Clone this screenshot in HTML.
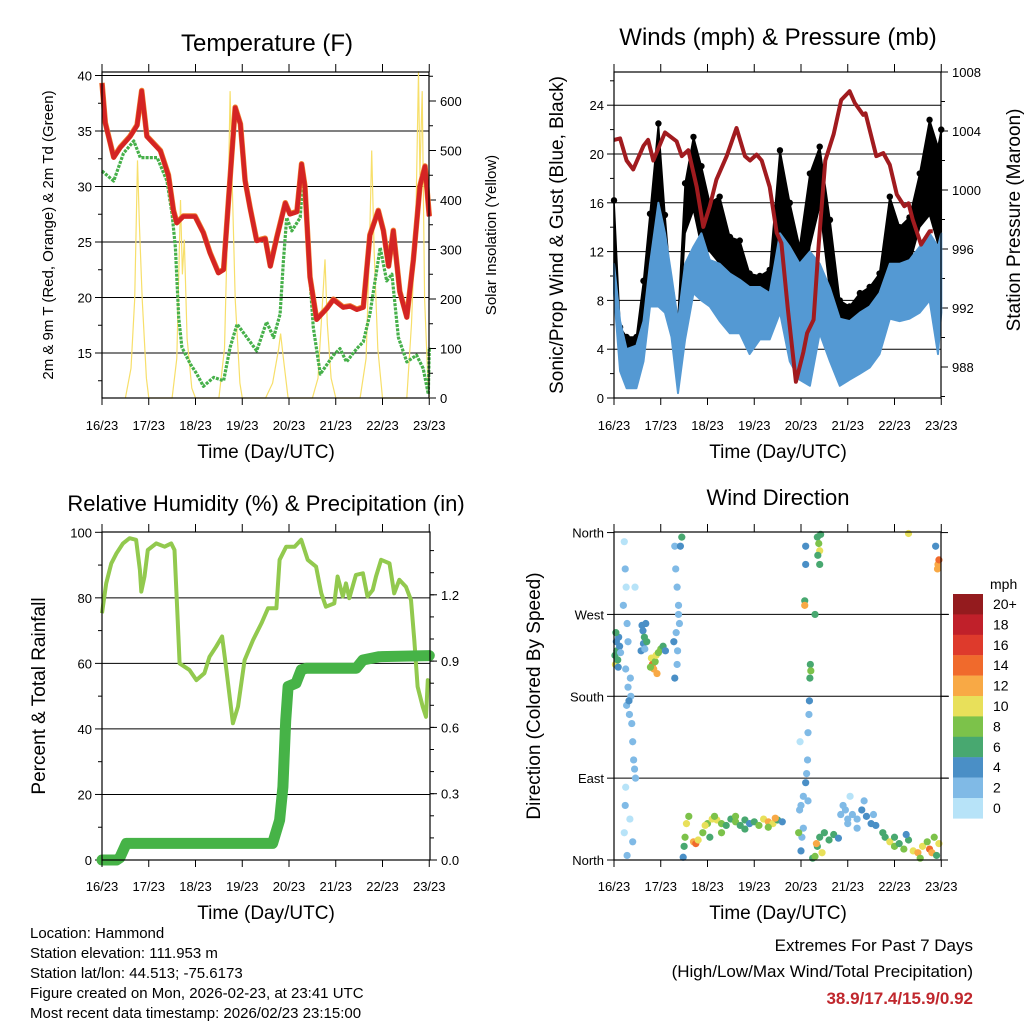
<!DOCTYPE html>
<html><head><meta charset="utf-8"><title>Hammond station 7-day meteogram</title>
<style>
html,body{margin:0;padding:0;background:#fff;}
svg{display:block;font-family:"Liberation Sans",Arial,sans-serif;}
</style></head>
<body>
<svg id="chart" width="1024" height="1024" viewBox="0 0 1024 1024" xmlns="http://www.w3.org/2000/svg">
<rect x="0" y="0" width="1024" height="1024" fill="#fff"/>
<g id="layer"></g>
<text x="267" y="51" font-size="24" text-anchor="middle">Temperature (F)</text>
<text x="778" y="45" font-size="24" text-anchor="middle">Winds (mph) &amp; Pressure (mb)</text>
<text x="266" y="511" font-size="22" text-anchor="middle">Relative Humidity (%) &amp; Precipitation (in)</text>
<text x="778" y="505" font-size="22" text-anchor="middle">Wind Direction</text>
<text transform="translate(53,235) rotate(-90)" font-size="15" text-anchor="middle">2m &amp; 9m T (Red, Orange) &amp; 2m Td (Green)</text>
<text transform="translate(496,235) rotate(-90)" font-size="15" text-anchor="middle">Solar Insolation (Yellow)</text>
<text transform="translate(563,235) rotate(-90)" font-size="19" text-anchor="middle">Sonic/Prop Wind &amp; Gust (Blue, Black)</text>
<text transform="translate(1020,220) rotate(-90)" font-size="19" text-anchor="middle">Station Pressure (Maroon)</text>
<text transform="translate(45,696) rotate(-90)" font-size="19" text-anchor="middle">Percent &amp; Total Rainfall</text>
<text transform="translate(540,696) rotate(-90)" font-size="19" text-anchor="middle">Direction (Colored By Speed)</text>
<text x="266" y="458" font-size="19" text-anchor="middle">Time (Day/UTC)</text>
<text x="778" y="458" font-size="19" text-anchor="middle">Time (Day/UTC)</text>
<text x="266" y="919" font-size="19" text-anchor="middle">Time (Day/UTC)</text>
<text x="778" y="919" font-size="19" text-anchor="middle">Time (Day/UTC)</text>
<g font-size="15">
<text x="30" y="938">Location: Hammond</text>
<text x="30" y="958">Station elevation: 111.953 m</text>
<text x="30" y="978">Station lat/lon: 44.513; -75.6173</text>
<text x="30" y="998">Figure created on Mon, 2026-02-23, at 23:41 UTC</text>
<text x="30" y="1018">Most recent data timestamp: 2026/02/23 23:15:00</text>
</g>
<g text-anchor="end">
<text x="973" y="951" font-size="17">Extremes For Past 7 Days</text>
<text x="973" y="977" font-size="17">(High/Low/Max Wind/Total Precipitation)</text>
<text x="973" y="1004" font-size="17" font-weight="bold" fill="#c0272d">38.9/17.4/15.9/0.92</text>
</g>
</svg>
<script>
// ---------- data ----------
const dayLabels = ["16/23","17/23","18/23","19/23","20/23","21/23","22/23","23/23"];
const tempTicks = [15,20,25,30,35,40];
const solarTicks = [0,100,200,300,400,500,600];
const windTicks = [0,4,8,12,16,20,24];
const pressTicks = [988,992,996,1000,1004,1008];
const rhTicks = [0,20,40,60,80,100];
const rainTicks = ["0.0","0.3","0.6","0.9","1.2"];
const dirTicks = ["North","East","South","West","North"];
const speedLabels = ["20+","18","16","14","12","10","8","6","4","2","0"];
const speedColors = ["#b7e3f8","#80bae6","#4a8fc6","#48a870","#7cc24a","#e8e05a","#f8a945","#f06a2c","#de3a2c","#c0202a","#941b1e"];

const tempT = [0,0.07,0.25,0.39,0.6,0.75,0.85,0.96,1.25,1.42,1.53,1.6,1.74,1.99,2.17,2.31,2.49,2.6,2.71,2.85,2.96,3.06,3.17,3.31,3.49,3.6,3.74,3.92,4.02,4.17,4.27,4.34,4.45,4.59,4.81,4.95,5.16,5.31,5.45,5.59,5.73,5.91,6.02,6.13,6.23,6.37,6.52,6.66,6.8,6.91,7];
const tempV = [39.3,35.7,32.6,33.5,34.5,35.5,38.6,34.5,33.2,31,27.8,26.7,27.3,27.3,25.8,24,22.2,22.5,29,37.1,35.6,30.5,28,25.1,25.3,22.8,25.4,28.5,27.5,27.7,32,30,21.8,18,19,19.8,19.1,19.2,18.9,19.1,25.6,27.8,26,22.8,26,20.5,18.2,23.4,30,31.8,27.3];
const dewT = [0,0.25,0.46,0.68,0.82,0.96,1.18,1.39,1.5,1.57,1.64,1.71,1.89,2.03,2.17,2.39,2.6,2.74,2.89,3.31,3.52,3.67,3.81,3.88,3.95,4.06,4.24,4.31,4.38,4.52,4.67,4.95,5.09,5.23,5.45,5.59,5.73,5.95,6.09,6.2,6.34,6.52,6.73,6.87,6.98,7];
const dewV = [31.4,30.5,33,34.1,32.6,32.6,32.6,30.5,27.5,24.5,18.2,15.5,14,13.1,12,12.8,12.5,15.5,17.6,15.2,17.8,16.4,18.5,23.3,27.2,26,27.2,31.4,25.7,17.3,13.1,14.8,15.4,14.2,15.4,16,18.5,24.5,21.5,22.1,16.4,14.2,14.8,13.6,11.3,15.5];
const solarT = [0.5,0.62,0.7,0.76,0.8,0.86,0.95,1.0,1.5,1.6,1.68,1.72,1.76,1.82,1.92,2.0,2.5,2.62,2.7,2.74,2.78,2.85,2.95,3.0,3.5,3.65,3.78,3.82,3.88,3.98,4.5,4.62,4.72,4.77,4.82,4.9,5.0,5.52,5.65,5.72,5.77,5.82,5.9,6.0,6.52,6.62,6.72,6.77,6.8,6.85,6.9,6.97,7.0];
const solarV = [0,60,200,480,350,200,40,0,0,80,400,250,320,120,20,0,0,100,400,620,450,200,30,0,0,30,100,130,80,0,0,40,200,280,150,40,0,0,80,300,500,300,100,0,0,150,400,660,450,620,200,40,0];

const windT = [0,0.13,0.27,0.48,0.63,0.77,0.95,1.09,1.23,1.37,1.52,1.7,1.87,2.05,2.26,2.48,2.69,2.9,3.12,3.33,3.55,3.76,3.97,4.19,4.4,4.62,4.83,5.04,5.26,5.47,5.68,5.9,6.11,6.32,6.54,6.75,6.93,7];
const windHi = [11,6.3,4,4.3,6.3,11,16,13.5,10,6.3,11,12.4,13.5,11.3,11,10.2,9.7,9.1,9.1,8.6,13.5,12.4,11,12,11,9,6.5,6.3,7,7.5,8.6,11,11,11.3,12.4,13.5,12.4,13.5];
const windLo = [8.6,2.2,0.8,0.8,3,7.5,7.5,7,5,0.4,4.8,8.6,8,7.5,6.3,5.3,5.3,3.6,4.8,4.8,7,3,1.5,1,5.3,3,1,1.5,2,2.5,3.6,6.5,6.3,6.5,7,8,3.6,7];
const gustHi = [16.2,5.8,5,5,9.6,15.1,22.5,15,8.6,6.5,17.6,21.4,19,16,16.5,13.2,12.9,10.2,10,10.5,20.3,16,12.4,18.4,20.6,14.6,8,7.5,8.6,9.1,10.2,16.5,14,14.8,18.4,22.8,20.6,22];
const gustLo = [11,3.6,3.6,3.6,6.3,11.3,16,11.3,5,3.6,13.5,15.4,12.4,12,11,8.6,8.6,7,6.5,7,13.5,11.3,6.3,12.4,15.7,8.6,3.6,3.6,4.2,4.8,6.5,11.3,9.1,11,14,15,12.6,13.5];
const pressT = [0,0.13,0.27,0.41,0.63,0.73,0.84,1.09,1.34,1.45,1.59,1.77,1.91,2.05,2.19,2.41,2.62,2.8,2.91,3.05,3.16,3.33,3.48,3.58,3.72,3.89,4.05,4.13,4.27,4.38,4.52,4.7,4.86,5.04,5.15,5.33,5.38,5.61,5.76,5.9,6.05,6.21,6.3,6.39,6.57,6.75,6.82];
const pressV = [1003.4,1003.5,1002,1001.4,1003,1003.4,1002,1003.9,1003.3,1002.3,1002.7,1000.2,997.5,998.9,1000.7,1002.3,1004.2,1002.3,1002,1002.4,1002,1000.2,997.1,996.4,991.9,987,989,990.3,991.2,996.4,1002,1003.8,1006.1,1006.7,1005.9,1005.1,1005.2,1002.3,1002.5,1001.7,999.7,998.9,999.1,998,996.3,997.2,997.2];

const rhT = [0,0.09,0.2,0.31,0.45,0.59,0.73,0.81,0.84,0.91,0.98,1.16,1.34,1.48,1.55,1.62,1.66,1.87,2.02,2.19,2.3,2.44,2.57,2.66,2.8,2.91,3.05,3.23,3.41,3.55,3.73,3.8,3.94,4.12,4.26,4.4,4.58,4.69,4.79,4.97,5.04,5.15,5.22,5.29,5.43,5.58,5.68,5.79,5.86,5.97,6.15,6.25,6.36,6.5,6.61,6.68,6.75,6.86,6.93,6.97,7];
const rhV = [75.3,84.4,90.5,93.6,96.6,98.2,97.7,88.5,81.9,86.5,94.6,96.6,95.6,96.6,94.6,73.2,60,58,54.9,57,62,65.1,68.2,58,41.7,46.8,61,67.1,72.2,76.8,76.8,91.6,95.6,95.6,97.7,91.6,89.5,81.4,77.3,78.3,86.5,80.4,84.4,79.9,87,87.5,80.4,82.4,86.5,91.6,90.5,81.4,85.5,83.4,79.3,67.1,52.9,46.8,43.7,54.9,53.9];
const rainT = [0,0.31,0.38,0.52,3.65,3.8,3.87,3.93,3.98,4.15,4.26,4.37,5.44,5.58,5.93,7];
const rainV = [0,0,0.01,0.075,0.075,0.18,0.33,0.63,0.785,0.8,0.86,0.868,0.868,0.905,0.92,0.925];

const dirT = [0.02,0.03,0.05,0.06,0.08,0.1,0.12,0.04,0.09,0.14,
0.22,0.24,0.26,0.2,0.28,0.3,0.25,0.3,0.27,0.33,0.36,0.38,0.4,0.42,0.44,0.46,0.22,0.24,0.25,0.28,0.34,0.4,0.45,0.35,0.32,
0.6,0.62,0.65,0.63,0.58,0.7,0.68,0.66,
0.8,0.82,0.85,0.88,0.9,0.95,1.0,1.05,1.1,0.92,0.78,
1.3,1.32,1.35,1.38,1.4,1.33,1.36,1.3,1.35,1.42,1.45,1.38,1.28,
1.48,1.5,1.52,1.55,1.6,1.7,1.75,1.8,1.9,2.0,2.1,2.2,2.3,2.4,2.5,2.6,2.7,2.8,2.9,3.0,3.1,3.2,3.3,3.4,3.5,3.6,2.05,2.3,2.8,3.3,1.95,2.15,2.6,3.45,
3.97,4.0,4.05,4.1,4.12,4.14,4.15,4.17,4.18,4.19,4.2,4.21,4.0,4.02,4.05,3.98,3.95,4.35,4.38,4.4,4.36,4.42,4.4,4.1,4.1,4.08,4.08,4.3,4.15,
4.25,4.3,4.35,4.4,4.5,4.6,4.7,4.8,4.45,4.33,
4.85,4.9,4.95,5.0,5.05,5.1,5.2,5.3,5.35,5.4,5.5,5.6,5.55,5.2,5.0,
5.75,5.8,5.9,6.0,6.1,6.2,6.3,6.4,6.5,6.6,6.7,6.75,6.8,6.85,6.9,6.95,6.55,6.0,6.25,
6.93,6.95,6.92,6.88,6.3];
const dirV = [225,215,240,230,220,245,235,250,212,228,
350,320,300,280,260,240,210,190,170,160,180,150,130,110,100,90,30,60,80,5,45,20,300,200,175,
258,252,245,238,230,240,260,232,
222,215,210,218,225,228,232,235,230,205,212,
345,320,300,280,260,250,230,200,215,345,355,270,240,
3,15,25,40,48,20,18,22,30,40,45,44,40,38,45,42,38,44,40,42,38,45,42,40,44,42,25,30,34,36,38,48,48,46,
55,60,70,85,95,110,140,160,175,200,215,208,10,25,35,130,30,355,348,340,335,358,325,345,325,285,280,270,65,
2,4,15,25,30,22,28,24,8,18,
50,60,55,45,70,50,45,55,65,48,40,38,50,35,40,
30,25,20,15,18,12,22,10,8,15,20,12,8,25,5,18,2,25,28,
325,330,320,345,359];
const dirS = [6,10,5,7,6,4,5,7,5,3,
1,2,1,2,2,3,2,3,2,3,2,2,3,2,2,3,1,2,1,2,1,2,1,3,4,
4,5,6,4,5,6,4,3,
11,14,12,9,10,8,9,7,5,12,8,
2,2,2,2,3,2,3,4,3,5,6,3,4,
4,6,9,10,8,12,14,10,8,9,11,10,9,7,6,8,7,6,5,6,8,10,12,11,6,4,7,8,6,9,10,9,8,12,
3,2,3,4,3,2,2,3,4,6,6,8,4,3,2,1,9,6,8,10,6,7,6,4,4,6,12,6,2,
7,8,6,6,6,7,6,5,10,12,
3,2,3,2,1,3,2,4,3,4,4,4,2,2,3,
6,7,10,8,7,9,6,10,12,10,9,14,12,8,7,11,8,6,5,
12,14,12,4,10];

// ---------- helpers ----------
const NS = "http://www.w3.org/2000/svg";
const layer = document.getElementById("layer");
function mk(tag, attrs, parent) {
  const e = document.createElementNS(NS, tag);
  for (const k in attrs) e.setAttribute(k, attrs[k]);
  (parent || layer).appendChild(e);
  return e;
}
function pathFrom(ts, vs, xf, yf) {
  return ts.map((t, i) => (i ? "L" : "M") + xf(t).toFixed(1) + "," + yf(vs[i]).toFixed(1)).join("");
}
const DAYW = 46.75;
const X1 = t => 102 + t * DAYW;
const X2 = t => 614 + t * DAYW;
const yTemp = v => 353 - (v - 15) * 11.1;
const ySol = s => 398 - s * 0.495;
const yWind = v => 398 - v * 12.2;
const yPress = p => 367 - (p - 988) * 14.75;
const yRH = v => 860 - v * 3.277;
const yRain = r => 860 - r * 221;
const yDir = d => 860 - d * 0.9095;

function frame(name) {
  const g = mk("g", {});
  
  
  return g;
}
function xAxis(g, x0, ytop, ybot, labelY, name) {
  for (let d = 0; d <= 7; d++) {
    const x = x0 + d * DAYW;
    mk("line", {x1: x, x2: x, y1: ytop - 8, y2: ytop, stroke: "#000", "stroke-width": 1}, g);
    mk("line", {x1: x, x2: x, y1: ybot, y2: ybot + 7, stroke: "#000", "stroke-width": 1}, g);
    const tx = mk("text", {x: x, y: labelY, "font-size": 13, "text-anchor": "middle"}, g);
    tx.textContent = dayLabels[d];
    
    
  }
}
function box(g, x0, y0, x1, y1) {
  mk("rect", {x: x0, y: y0, width: x1 - x0, height: y1 - y0, fill: "none", stroke: "#000", "stroke-width": 1.2}, g);
}
function grid(g, x0, x1, y) {
  mk("line", {x1: x0, x2: x1, y1: y, y2: y, stroke: "#000", "stroke-width": 1}, g);
}
function leftTick(g, x0, y, lab, name, len) {
  mk("line", {x1: x0 - (len || 7), x2: x0, y1: y, y2: y, stroke: "#000"}, g);
  if (lab !== null) {
    const t = mk("text", {x: x0 - 10, y: y + 5, "font-size": 13, "text-anchor": "end"}, g);
    t.textContent = lab;
    
    
  }
}
function rightTick(g, x1, y, lab, name, len) {
  mk("line", {x1: x1, x2: x1 + (len || 7), y1: y, y2: y, stroke: "#000"}, g);
  if (lab !== null) {
    const t = mk("text", {x: x1 + 11, y: y + 5, "font-size": 13, "text-anchor": "start"}, g);
    t.textContent = lab;
    
    
  }
}

// ---------- Panel 1: temperature ----------
(function () {
  const g = frame("temperature-panel");
  tempTicks.forEach(v => { grid(g, 102, 429, yTemp(v)); leftTick(g, 102, yTemp(v), String(v), "temperature-tick-label"); });
  for (let v = 12.5; v <= 40; v += 5) leftTick(g, 102, yTemp(v), null, "", 4);
  solarTicks.forEach(s => rightTick(g, 429, ySol(s), String(s), "solar-tick-label"));
  for (let s = 50; s <= 650; s += 100) rightTick(g, 429, ySol(s), null, "", 4);
  const sol = mk("path", {d: pathFrom(solarT, solarV, X1, ySol), fill: "none", stroke: "#f7df6a", "stroke-width": 1.2}, g);
  
  
  const dew = mk("path", {d: pathFrom(dewT, dewV, X1, yTemp), fill: "none", stroke: "#46b04a", "stroke-width": 3.2, "stroke-dasharray": "3 1.2", "stroke-linejoin": "round"}, g);
  
  
  const or = mk("path", {d: pathFrom(tempT, tempV, X1, yTemp), fill: "none", stroke: "#f07d2e", "stroke-width": 5.5, "stroke-linejoin": "round", transform: "translate(0,-0.5)"}, g);
  
  
  const red = mk("path", {d: pathFrom(tempT, tempV, X1, yTemp), fill: "none", stroke: "#d42424", "stroke-width": 4.5, "stroke-linejoin": "round"}, g);
  
  
  box(g, 102, 72, 429, 398);
  xAxis(g, 102, 72, 398, 430, "temperature-x");
})();

// ---------- Panel 2: winds & pressure ----------
(function () {
  const g = frame("winds-panel");
  windTicks.forEach(v => { if (v > 0) grid(g, 614, 941, yWind(v)); leftTick(g, 614, yWind(v), String(v), "wind-tick-label"); });
  for (let v = 2; v <= 26; v += 4) leftTick(g, 614, yWind(v), null, "", 4);
  pressTicks.forEach(p => rightTick(g, 941, yPress(p), String(p), "pressure-tick-label"));
  for (let p = 986; p <= 1006; p += 4) rightTick(g, 941, yPress(p), null, "", 4);
  const up = windT.map((t, i) => X2(t).toFixed(1) + "," + yWind(gustHi[i]).toFixed(1));
  const dn = windT.map((t, i) => X2(t).toFixed(1) + "," + yWind(gustLo[i]).toFixed(1)).reverse();
  const gb = mk("polygon", {points: up.concat(dn).join(" "), fill: "#000", stroke: "#000", "stroke-width": 1.5, "stroke-linejoin": "round"}, g);
  
  
  windT.forEach((t, i) => {
    const c = mk("circle", {cx: X2(t), cy: yWind(gustHi[i]), r: 3.2, fill: "#000"}, g);
    
    
  });
  const bu = windT.map((t, i) => X2(t).toFixed(1) + "," + yWind(windHi[i]).toFixed(1));
  const bd = windT.map((t, i) => X2(t).toFixed(1) + "," + yWind(windLo[i]).toFixed(1)).reverse();
  const wb = mk("polygon", {points: bu.concat(bd).join(" "), fill: "#5499d3", stroke: "#5499d3", "stroke-width": 2, "stroke-linejoin": "round"}, g);
  
  
  const pr = mk("path", {d: pathFrom(pressT, pressV, X2, yPress), fill: "none", stroke: "#a11b1f", "stroke-width": 4, "stroke-linejoin": "round"}, g);
  
  
  box(g, 614, 72, 941, 398);
  xAxis(g, 614, 72, 398, 430, "winds-x");
})();

// ---------- Panel 3: RH & precipitation ----------
(function () {
  const g = frame("humidity-panel");
  rhTicks.forEach(v => { if (v > 0 && v < 100) grid(g, 102, 430, yRH(v)); leftTick(g, 102, yRH(v), String(v), "humidity-tick-label"); });
  for (let v = 10; v <= 90; v += 20) leftTick(g, 102, yRH(v), null, "", 4);
  rainTicks.forEach(r => rightTick(g, 430, yRain(parseFloat(r)), r, "rain-tick-label"));
  for (let r = 0.1; r <= 1.45; r += 0.1) rightTick(g, 430, yRain(r), null, "", 4);
  const rh = mk("path", {d: pathFrom(rhT, rhV, X1, yRH), fill: "none", stroke: "#92c94e", "stroke-width": 4, "stroke-linejoin": "round"}, g);
  
  
  const rn = mk("path", {d: pathFrom(rainT, rainV, X1, yRain), fill: "none", stroke: "#46b347", "stroke-width": 11, "stroke-linejoin": "round", "stroke-linecap": "round"}, g);
  
  
  box(g, 102, 532, 430, 860);
  xAxis(g, 102, 532, 860, 891, "humidity-x");
})();

// ---------- Panel 4: wind direction ----------
(function () {
  const g = frame("wind-direction-panel");
  dirTicks.forEach((lab, i) => {
    const y = yDir(i * 90);
    if (i > 0 && i < 4) grid(g, 614, 949, y);
    leftTick(g, 614, y, lab, "direction-tick-label");
    rightTick(g, 941, y, null, "", 7);
  });
  dirT.forEach((t, i) => {
    const bin = Math.min(10, Math.floor(dirS[i] / 2));
    const c = mk("circle", {cx: X2(t), cy: yDir(dirV[i]), r: 3.6, fill: speedColors[bin]}, g);
    
    
  });
  box(g, 614, 532, 941, 860);
  xAxis(g, 614, 532, 860, 891, "direction-x");
  const cb = mk("g", {}, layer);
  
  
  const u = mk("text", {x: 990, y: 589, "font-size": 14}, cb);
  u.textContent = "mph";
  
  
  speedLabels.forEach((lab, i) => {
    const y = 594 + i * 20.4;
    const r = mk("rect", {x: 953, y: y, width: 30, height: 20.6, fill: speedColors[10 - i]}, cb);
    
    
    const t = mk("text", {x: 993, y: y + 15, "font-size": 14}, cb);
    t.textContent = lab;
    
    
  });
})();
</script>
</body></html>
